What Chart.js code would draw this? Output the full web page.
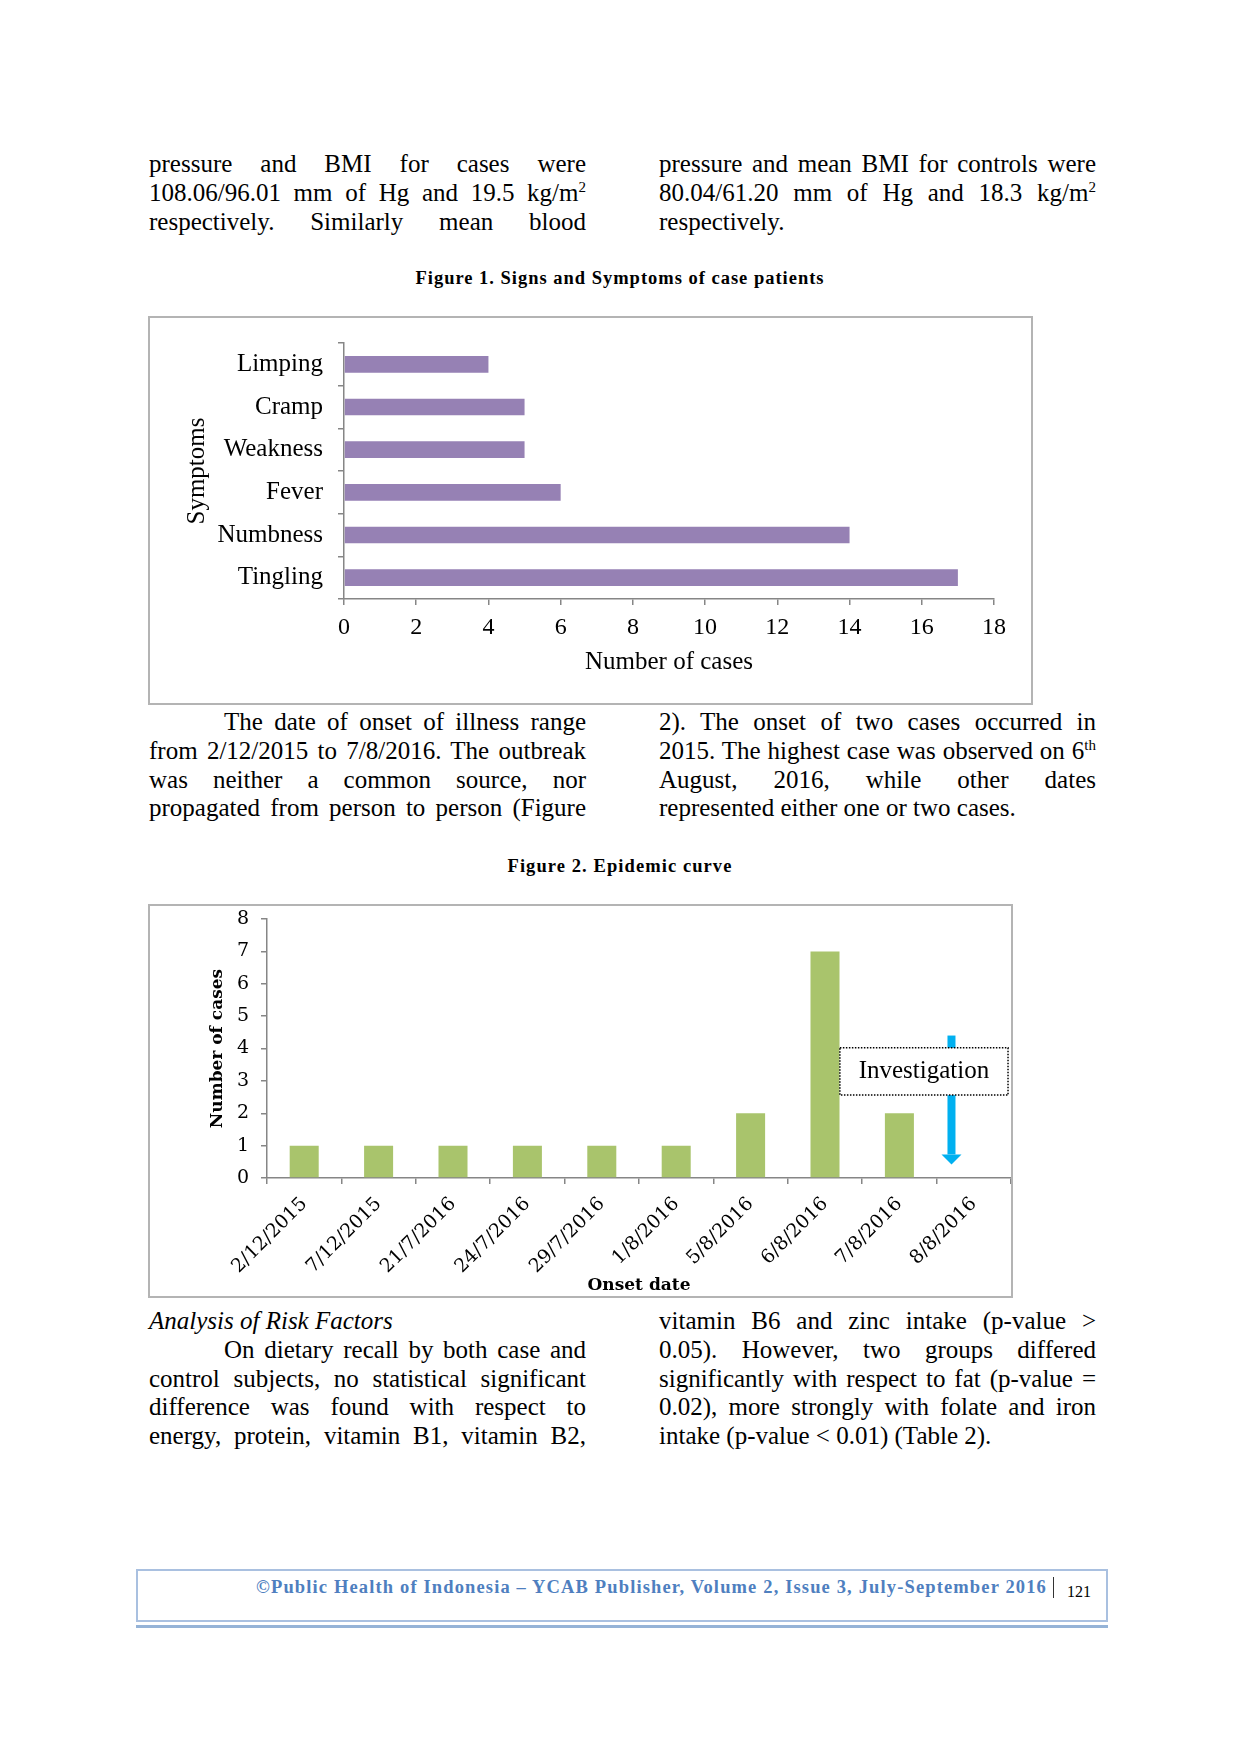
<!DOCTYPE html>
<html><head><meta charset="utf-8">
<script src="https://cdn.jsdelivr.net/npm/chart.js@4.4.1/dist/chart.umd.min.js"></script>
<style>
html,body{margin:0;padding:0;background:#fff;}
body{width:1240px;height:1754px;position:relative;overflow:hidden;font-family:"Liberation Serif","Times New Roman",serif;color:#000;}
.blk{position:absolute;font-size:25px;line-height:28.8px;}
.ln{text-align:justify;text-align-last:justify;height:28.8px;overflow:visible;}
.ln.last{text-align:left;text-align-last:left;}
.ind{text-indent:75px;}
sup{font-size:60%;line-height:0;vertical-align:super;}
.title{position:absolute;left:0;width:1240px;text-align:center;font-weight:bold;font-size:18.5px;line-height:22px;}
.title span,.foot span{white-space:nowrap;display:inline-block;}
.frame{position:absolute;border:2px solid #b4b4b4;box-sizing:border-box;}
.frame canvas{display:block;}
</style></head>
<body>

<div class="blk" style="left:149px;top:150px;width:437px;">
<div class="ln">pressure and BMI for cases were</div>
<div class="ln">108.06/96.01 mm of Hg and 19.5 kg/m<sup>2</sup></div>
<div class="ln">respectively. Similarly mean blood</div>
</div>
<div class="blk" style="left:659px;top:150px;width:437px;">
<div class="ln">pressure and mean BMI for controls were</div>
<div class="ln">80.04/61.20 mm of Hg and 18.3 kg/m<sup>2</sup></div>
<div class="ln last">respectively.</div>
</div>

<div class="title" style="top:267px;"><span id="t1">Figure 1. Signs and Symptoms of case patients</span></div>

<div class="frame" style="left:148px;top:316px;width:885px;height:389px;">
<canvas id="c1" width="881" height="385" style="width:881px;height:385px;"></canvas>
</div>

<div class="blk" style="left:149px;top:708px;width:437px;">
<div class="ln ind">The date of onset of illness range</div>
<div class="ln">from 2/12/2015 to 7/8/2016. The outbreak</div>
<div class="ln">was neither a common source, nor</div>
<div class="ln">propagated from person to person (Figure</div>
</div>
<div class="blk" style="left:659px;top:708px;width:437px;">
<div class="ln">2). The onset of two cases occurred in</div>
<div class="ln">2015. The highest case was observed on 6<sup>th</sup></div>
<div class="ln">August, 2016, while other dates</div>
<div class="ln last">represented either one or two cases.</div>
</div>

<div class="title" style="top:855px;"><span id="t2">Figure 2. Epidemic curve</span></div>

<div class="frame" style="left:148px;top:904px;width:865px;height:394px;">
<canvas id="c2" width="861" height="390" style="width:861px;height:390px;"></canvas>
</div>

<div class="blk" style="left:149px;top:1307px;width:437px;">
<div class="ln last" style="font-style:italic;">Analysis of Risk Factors</div>
<div class="ln ind">On dietary recall by both case and</div>
<div class="ln">control subjects, no statistical significant</div>
<div class="ln">difference was found with respect to</div>
<div class="ln">energy, protein, vitamin B1, vitamin B2,</div>
</div>
<div class="blk" style="left:659px;top:1307px;width:437px;">
<div class="ln">vitamin B6 and zinc intake (p-value &gt;</div>
<div class="ln">0.05). However, two groups differed</div>
<div class="ln">significantly with respect to fat (p-value =</div>
<div class="ln">0.02), more strongly with folate and iron</div>
<div class="ln last">intake (p-value &lt; 0.01) (Table 2).</div>
</div>

<div style="position:absolute;left:136px;top:1569px;width:972px;height:53px;border:2px solid #a9c0e0;box-sizing:border-box;"></div>
<div style="position:absolute;left:136px;top:1625px;width:972px;height:3px;background:#95b3d7;"></div>
<div class="foot" style="position:absolute;left:0;width:1047px;top:1576px;text-align:right;font-weight:bold;font-size:18.5px;line-height:22px;color:#4f7fbf;"><span id="ft">©Public Health of Indonesia – YCAB Publisher, Volume 2, Issue 3, July-September 2016</span></div>
<div style="position:absolute;left:1053px;top:1577px;width:1px;height:21px;background:#333;"></div>
<div style="position:absolute;left:1067px;top:1582px;font-size:16px;line-height:20px;">121</div>

<script>
// ---------- data ----------
const symptomLabels = ['Limping', 'Cramp', 'Weakness', 'Fever', 'Numbness', 'Tingling'];
const symptomCases = [4, 5, 5, 6, 14, 17];
const symptomAxisMax = 18;
const symptomAxisStep = 2;

const onsetDates = ['2/12/2015', '7/12/2015', '21/7/2016', '24/7/2016', '29/7/2016',
                    '1/8/2016', '5/8/2016', '6/8/2016', '7/8/2016', '8/8/2016'];
const onsetCases = [1, 1, 1, 1, 1, 1, 2, 7, 2, 0];
const onsetAxisMax = 8;
const onsetAxisStep = 1;

// annotation anchors (category index / value units)
const investigationArrow = { index: 8.7, fromValue: 4.4, toValue: 0.42 };
const investigationBox = { text: 'Investigation', fromIndex: 7.2, toIndex: 9.46, topValue: 4.02, bottomValue: 2.56 };

// ---------- helpers ----------
function fitWidth(id, target) {
  const el = document.getElementById(id);
  const w = el.getBoundingClientRect().width;
  const n = el.textContent.length;
  el.style.letterSpacing = ((target - w) / n) + 'px';
}
fitWidth('t1', 409);
fitWidth('t2', 225);
fitWidth('ft', 791);

const AXIS = '#868686';
const TIMES = 'Liberation Serif';
const CAMB = 'DejaVu Serif';

// ---------- Figure 1 ----------
new Chart(document.getElementById('c1'), {
  type: 'bar',
  data: {
    labels: symptomLabels,
    datasets: [{ data: symptomCases, backgroundColor: '#9681b4', borderWidth: 0,
                 categoryPercentage: 1, barPercentage: 0.39 }]
  },
  options: {
    indexAxis: 'y', responsive: false, animation: false,
    layout: { padding: { left: 0, right: 37, top: 25, bottom: 0 } },
    plugins: { legend: { display: false }, tooltip: { enabled: false } },
    scales: {
      x: {
        min: 0, max: symptomAxisMax,
        ticks: { stepSize: symptomAxisStep, font: { family: TIMES, size: 24 }, color: '#000', padding: 8 },
        grid: { drawOnChartArea: false, drawTicks: true, tickLength: 6, color: AXIS, lineWidth: 1.5 },
        border: { color: AXIS, width: 1.5 },
        title: { display: true, text: 'Number of cases', color: '#000',
                 font: { family: TIMES, size: 25 }, padding: { top: 0, bottom: 26 } },
        afterFit(s) { s.height = 104; }
      },
      y: {
        ticks: { font: { family: TIMES, size: 25 }, color: '#000', padding: 15 },
        grid: { offset: true, drawOnChartArea: false, drawTicks: true, tickLength: 6, color: AXIS, lineWidth: 1.5 },
        border: { color: AXIS, width: 1.5 },
        title: { display: true, text: 'Symptoms', color: '#000',
                 font: { family: TIMES, size: 25 }, padding: { top: 32, bottom: 0 } },
        afterFit(s) { s.width = 194; s.paddingTop = 0; s.paddingBottom = 0; }
      }
    }
  }
});

// ---------- Figure 2 ----------
const investigationPlugin = {
  id: 'investigation',
  afterDatasetsDraw(chart) {
    const ctx = chart.ctx, xs = chart.scales.x, ys = chart.scales.y;
    // arrow
    const ax = xs.getPixelForValue(investigationArrow.index);
    const ay0 = ys.getPixelForValue(investigationArrow.fromValue);
    const ay1 = ys.getPixelForValue(investigationArrow.toValue);
    ctx.save();
    ctx.fillStyle = '#00b0f0';
    ctx.fillRect(ax - 4, ay0, 8, (ay1 - 10) - ay0);
    ctx.beginPath();
    ctx.moveTo(ax - 10, ay1 - 10);
    ctx.lineTo(ax + 10, ay1 - 10);
    ctx.lineTo(ax, ay1);
    ctx.closePath();
    ctx.fill();
    // box
    const bx0 = xs.getPixelForValue(investigationBox.fromIndex);
    const bx1 = xs.getPixelForValue(investigationBox.toIndex);
    const by0 = ys.getPixelForValue(investigationBox.topValue);
    const by1 = ys.getPixelForValue(investigationBox.bottomValue);
    ctx.fillStyle = '#fff';
    ctx.fillRect(bx0, by0, bx1 - bx0, by1 - by0);
    ctx.strokeStyle = '#000';
    ctx.lineWidth = 1.5;
    ctx.setLineDash([1.5, 1.5]);
    ctx.strokeRect(bx0, by0, bx1 - bx0, by1 - by0);
    ctx.setLineDash([]);
    ctx.fillStyle = '#000';
    ctx.font = '25px "Liberation Serif"';
    ctx.textAlign = 'center';
    ctx.textBaseline = 'middle';
    ctx.fillText(investigationBox.text, (bx0 + bx1) / 2, (by0 + by1) / 2);
    ctx.restore();
  }
};

new Chart(document.getElementById('c2'), {
  type: 'bar',
  data: {
    labels: onsetDates,
    datasets: [{ data: onsetCases, backgroundColor: '#a9c46c', borderWidth: 0,
                 categoryPercentage: 1, barPercentage: 0.39 }]
  },
  plugins: [investigationPlugin],
  options: {
    responsive: false, animation: false,
    layout: { padding: { left: 0, right: 0, top: 13, bottom: 0 } },
    plugins: { legend: { display: false }, tooltip: { enabled: false } },
    scales: {
      x: {
        ticks: { font: { family: CAMB, size: 19 }, color: '#000', minRotation: 45, maxRotation: 45,
                 autoSkip: false, padding: 9 },
        grid: { offset: true, drawOnChartArea: false, drawTicks: true, tickLength: 6, color: AXIS, lineWidth: 1.5 },
        border: { color: AXIS, width: 1.5 },
        title: { display: true, text: 'Onset date', color: '#000',
                 font: { family: CAMB, size: 17, weight: 'bold' }, padding: { top: 0, bottom: 0 } },
        afterFit(s) { s.height = 118; s.paddingLeft = 0; s.paddingRight = 0; }
      },
      y: {
        min: 0, max: onsetAxisMax,
        ticks: { stepSize: onsetAxisStep, font: { family: CAMB, size: 19 }, color: '#000', padding: 12 },
        grid: { drawOnChartArea: false, drawTicks: true, tickLength: 6, color: AXIS, lineWidth: 1.5 },
        border: { color: AXIS, width: 1.5 },
        title: { display: true, text: 'Number of cases', color: '#000',
                 font: { family: CAMB, size: 17, weight: 'bold' }, padding: { top: 57, bottom: 0 } },
        afterFit(s) { s.width = 117; s.paddingTop = 0; s.paddingBottom = 0; }
      }
    }
  }
});
</script>
</body></html>
